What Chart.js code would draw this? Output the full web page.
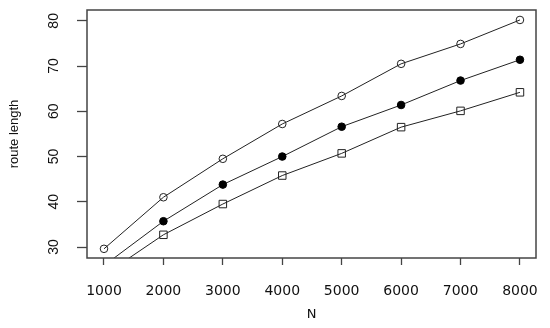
<!DOCTYPE html>
<html>
<head>
<meta charset="utf-8">
<script src="https://cdn.jsdelivr.net/npm/chart.js@4/dist/chart.umd.min.js"></script>
<style>
  html, body { margin: 0; padding: 0; background: #fff; }
  #wrap { width: 550px; height: 328px; position: relative; }
</style>
</head>
<body>
<div id="wrap"><canvas id="c" width="550" height="328"></canvas></div>
<script>
const nValues = [1000, 2000, 3000, 4000, 5000, 6000, 7000, 8000];
const seriesOpenCircle = [29.6, 41.0, 49.5, 57.2, 63.4, 70.5, 74.9, 80.2];
const seriesFilledCircle = [25.9, 35.7, 43.8, 50.0, 56.6, 61.4, 66.8, 71.4];
const seriesOpenSquare = [23.8, 32.7, 39.5, 45.8, 50.7, 56.5, 60.1, 64.2];
const xTickValues = [1000, 2000, 3000, 4000, 5000, 6000, 7000, 8000];
const yTickValues = [30, 40, 50, 60, 70, 80];

const INK = '#222';
const AXIS = '#444';

const toPoints = arr => arr.map((v, i) => ({ x: nValues[i], y: v }));

const boxPlugin = {
  id: 'box',
  afterDatasetsDraw(chart) {
    const { ctx, chartArea: a } = chart;
    ctx.save();
    ctx.strokeStyle = AXIS;
    ctx.lineWidth = 1.5;
    ctx.strokeRect(a.left, a.top, a.right - a.left, a.bottom - a.top);
    ctx.restore();
  }
};

new Chart(document.getElementById('c'), {
  type: 'line',
  data: {
    datasets: [
      {
        label: 'open circle',
        data: toPoints(seriesOpenCircle),
        borderColor: INK, borderWidth: 1,
        pointStyle: 'circle', pointRadius: 3.8,
        pointBackgroundColor: 'rgba(0,0,0,0)', pointBorderColor: INK, pointBorderWidth: 1,
        tension: 0
      },
      {
        label: 'filled circle',
        data: toPoints(seriesFilledCircle),
        borderColor: INK, borderWidth: 1,
        pointStyle: 'circle', pointRadius: 3.8,
        pointBackgroundColor: '#000', pointBorderColor: '#000', pointBorderWidth: 1,
        tension: 0
      },
      {
        label: 'open square',
        data: toPoints(seriesOpenSquare),
        borderColor: INK, borderWidth: 1,
        pointStyle: 'rect', pointRadius: 5.3,
        pointBackgroundColor: 'rgba(0,0,0,0)', pointBorderColor: INK, pointBorderWidth: 1,
        tension: 0
      }
    ]
  },
  options: {
    responsive: false,
    animation: false,
    devicePixelRatio: 1,
    layout: { padding: { top: 10, right: 14, left: 0, bottom: 0 } },
    plugins: { legend: { display: false }, tooltip: { enabled: false } },
    scales: {
      x: {
        type: 'linear',
        min: 714, max: 8270,
        afterBuildTicks: s => { s.ticks = xTickValues.map(v => ({ value: v })); },
        afterFit: s => { s.height = 70; s.paddingLeft = 0; s.paddingRight = 0; },
        grid: { drawOnChartArea: false, drawTicks: true, tickLength: 7, tickColor: AXIS, tickWidth: 1.3 },
        border: { display: false },
        ticks: {
          autoSkip: false, maxRotation: 0, minRotation: 0, padding: 18,
          color: '#111',
          font: { family: 'DejaVu Sans', size: 14 },
          callback: v => String(v)
        },
        title: {
          display: true, text: 'N', color: '#111',
          font: { family: 'DejaVu Sans', size: 13 },
          padding: { top: 6, bottom: 6 }
        }
      },
      y: {
        type: 'linear',
        min: 27.57, max: 82.4,
        afterBuildTicks: s => { s.ticks = yTickValues.map(v => ({ value: v })); },
        afterFit: s => { s.width = 87; s.paddingTop = 0; s.paddingBottom = 0; },
        grid: { drawOnChartArea: false, drawTicks: true, tickLength: 10, tickColor: AXIS, tickWidth: 1.3 },
        border: { display: false },
        ticks: {
          minRotation: 90, maxRotation: 90, crossAlign: 'center', padding: 15,
          color: '#111',
          font: { family: 'Liberation Sans', size: 14 },
          callback: v => String(v)
        },
        title: {
          display: true, text: 'route length', color: '#111',
          font: { family: 'Liberation Sans', size: 13 },
          padding: { top: 7, bottom: 7 }
        }
      }
    }
  },
  plugins: [boxPlugin]
});
</script>
</body>
</html>
